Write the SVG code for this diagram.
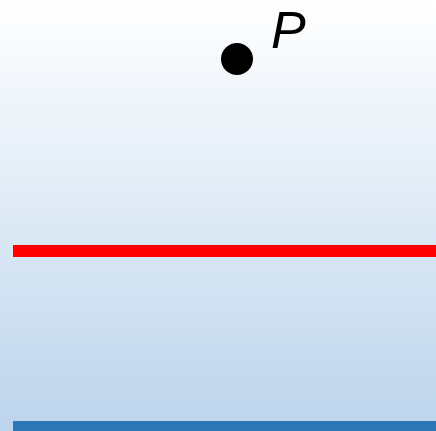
<svg xmlns="http://www.w3.org/2000/svg" width="436" height="431" viewBox="0 0 436 431">
<defs>
<linearGradient id="bg" x1="0" y1="0" x2="0" y2="1">
<stop offset="0" stop-color="#ffffff"/>
<stop offset="1" stop-color="#bcd4ec"/>
</linearGradient>
<style>
.lbl{font-family:"Liberation Sans",Arial,sans-serif;font-style:italic;font-size:52px;fill:#000}
</style>
</defs>
<rect x="0" y="0" width="436" height="431" fill="url(#bg)"/>
<g id="lines">
<rect id="red-line" x="13" y="245" width="423" height="12" fill="#ff0000"/>
<rect id="blue-line" x="13" y="421" width="423" height="10" fill="#2e75b6"/>
</g>
<g id="point-P">
<circle cx="237" cy="59" r="16" fill="#000"/>
<text class="lbl" x="271" y="48">P</text>
</g>
</svg>
